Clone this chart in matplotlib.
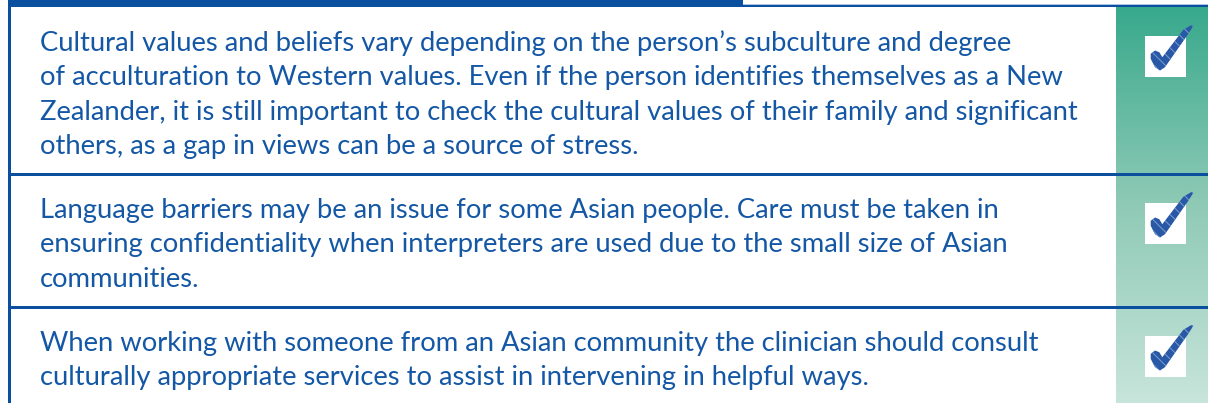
#!/usr/bin/env python3
"""
Checklist panel: three guidance statements, each ticked in a green side column.

Output:
    out.png — 1208x403 panel
"""
import numpy as np
import matplotlib
matplotlib.use("Agg")
import matplotlib.pyplot as plt
from matplotlib.colors import LinearSegmentedColormap
from matplotlib.patches import Rectangle, Polygon

# Row contents (one list of wrapped lines per row) and whether each row is ticked
row_lines = [
    ["Cultural values and beliefs vary depending on the person\u2019s subculture and degree",
     "of acculturation to Western values. Even if the person identifies themselves as a New",
     "Zealander, it is still important to check the cultural values of their family and significant",
     "others, as a gap in views can be a source of stress."],
    ["Language barriers may be an issue for some Asian people. Care must be taken in",
     "ensuring confidentiality when interpreters are used due to the small size of Asian",
     "communities."],
    ["When working with someone from an Asian community the clinician should consult",
     "culturally appropriate services to assist in intervening in helpful ways."],
]
row_checked = [True, True, True]

W, H = 1208, 403
BLUE = "#0b4f9f"
TEXT_BLUE = "#1457a5"
row_tops = [7, 174, 307]
text_x = 40
green_x0 = 1116
line_step = 34.4

# checkmark outline relative to the centre of its white box (pixels, y down)
check_shape = np.array([
    (-14.8, -2.2), (-10.5, -5.5), (-6.2, -3.8), (-3.2, 1.2), (17.8, -26.2),
    (26.2, -31.2), (27.8, -30.2), (22.8, -22.2), (-0.5, 11.2), (-5.5, 14.5),
    (-10.5, 11.2), (-14.8, 2.8),
])

plt.rcParams["hatch.linewidth"] = 0.7

fig = plt.figure(figsize=(W / 100, H / 100), dpi=100)
ax = fig.add_axes([0, 0, 1, 1])
ax.set_xlim(0, W)
ax.set_ylim(H, 0)
ax.axis("off")

# green side column with a vertical fade
green = LinearSegmentedColormap.from_list("g", ["#38a98c", "#8fcab6", "#c8e5db"])
grad = np.linspace(0, 1, 256).reshape(-1, 1)
ax.imshow(grad, cmap=green, extent=[green_x0, W, H, 7], aspect="auto", zorder=0)

# frame: heavy top band, thin rule to the right, left border, row rules
ax.add_patch(Rectangle((8, 0), 735, 7, color=BLUE, lw=0, zorder=3))
ax.add_patch(Rectangle((743, 3.5), W - 743, 1.6, color="#aac4e3", lw=0, zorder=3))
ax.add_patch(Rectangle((743, 5), W - 743, 2.2, color=BLUE, lw=0, zorder=3))
ax.add_patch(Rectangle((8, 0), 2.6, H, color=BLUE, lw=0, zorder=3))
for top in row_tops[1:]:
    ax.add_patch(Rectangle((8, top - 1.5), W - 8, 3.0, color=BLUE, lw=0, zorder=3))

# fit font size so the longest line spans the same width as the reference
fig.canvas.draw()
renderer = fig.canvas.get_renderer()
probe = ax.text(0, 0, row_lines[0][2], fontsize=20, family="Lato")
w = probe.get_window_extent(renderer).width
probe.remove()
fsize = 20 * 1043 / w

for top, lines, checked in zip(row_tops, row_lines, row_checked):
    for i, line in enumerate(lines):
        ax.text(text_x, top + 44 + i * line_step, line, fontsize=fsize,
                family="Lato", color=TEXT_BLUE, va="baseline", ha="left", zorder=4)
    if checked:
        cx, cy = 1165.5, top + 49
        ax.add_patch(Rectangle((cx - 20.5, cy - 20.5), 41, 41, color="white", lw=0, zorder=4))
        ax.add_patch(Polygon(check_shape + (cx, cy), closed=True, facecolor="#2858a6",
                             edgecolor="#7d9dd2", hatch="\\\\\\", lw=0, zorder=5))

fig.savefig("out.png", dpi=100)
